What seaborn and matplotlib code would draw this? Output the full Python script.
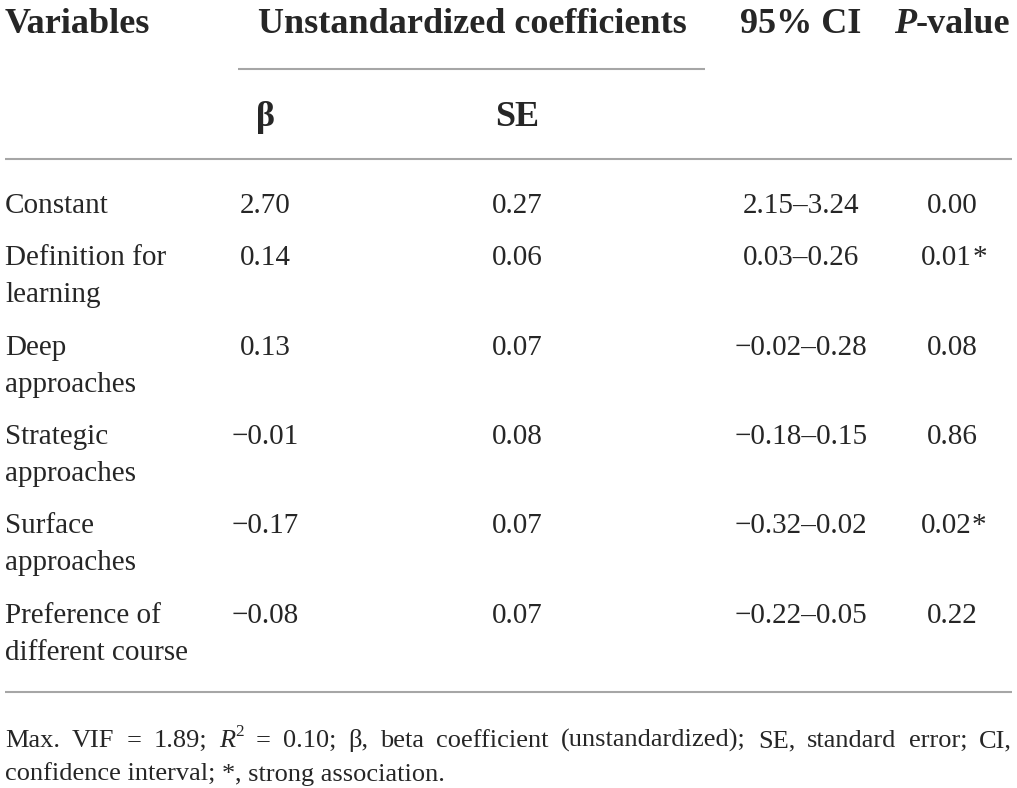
#!/usr/bin/env python3
# coding: utf-8

import seaborn as sns
import matplotlib
from matplotlib import pyplot as plt

# common setup  BEGIN
sns.set_theme(style="white")
matplotlib.rcParams['font.family'] = ['Liberation Serif', 'DejaVu Serif']
body_size = 21
head_size = 26
note_size = 19
line_color = "#a6a6a6"
# common setup END

variables = ["Constant", "Definition for\nlearning", "Deep\napproaches",
             "Strategic\napproaches", "Surface\napproaches",
             "Preference of\ndifferent course"]
beta = ["2.70", "0.14", "0.13", "\u22120.01", "\u22120.17", "\u22120.08"]
se = ["0.27", "0.06", "0.07", "0.08", "0.07", "0.07"]
ci = ["2.15\u20133.24", "0.03\u20130.26", "\u22120.02\u20130.28",
      "\u22120.18\u20130.15", "\u22120.32\u20130.02", "\u22120.22\u20130.05"]
p_values = ["0.00", "0.01", "0.08", "0.86", "0.02", "0.22"]
strong = [False, True, False, False, True, False]

row_base = [213, 265, 355, 444, 533, 623]
line_gap = 37

fig = plt.figure(figsize=[10.17, 7.88], dpi=100)
ax = fig.add_axes([0, 0, 1, 1])
ax.set_xlim(0, 1017)
ax.set_ylim(788, 0)
ax.axis("off")
renderer = fig.canvas.get_renderer()


def width_of(s, **kw):
    t = ax.text(0, 0, s, **kw)
    w = t.get_window_extent(renderer).width
    t.remove()
    return w


def runs(parts, x, y, center=False):
    # parts: list of (text, kwargs); drawn one after another on baseline y
    ws = [width_of(s, **kw) for s, kw in parts]
    if center:
        x = x - sum(ws) / 2
    for (s, kw), w in zip(parts, ws):
        ax.text(x, y, s, va="baseline", ha="left", **kw)
        x += w
    return x


bold = dict(fontsize=head_size, fontweight="bold")
# header
ax.text(5, 33, "Variables", va="baseline", ha="left", **bold)
ax.text(472, 33, "Unstandardized coefficients", va="baseline", ha="center", **bold)
ax.text(801, 33, "95% CI", va="baseline", ha="center", **bold)
runs([("P", dict(fontsize=head_size, fontweight="bold", fontstyle="italic")),
      ("-value", bold)], 952, 33, center=True)
ax.hlines(69, 238, 705, color=line_color, lw=1.5)
ax.text(265, 126, "\u03b2", va="baseline", ha="center", **bold)
ax.text(517, 126, "SE", va="baseline", ha="center", **bold)
ax.hlines(159, 5, 1012, color=line_color, lw=1.5)

# body
for i, name in enumerate(variables):
    yb = row_base[i]
    for k, part in enumerate(name.split("\n")):
        ax.text(5, yb + k * line_gap, part, va="baseline", ha="left", fontsize=body_size)
    ax.text(265, yb, beta[i], va="baseline", ha="center", fontsize=body_size)
    ax.text(517, yb, se[i], va="baseline", ha="center", fontsize=body_size)
    ax.text(801, yb, ci[i], va="baseline", ha="center", fontsize=body_size)
    if strong[i]:
        runs([(p_values[i], dict(fontsize=body_size)),
              ("*", dict(fontsize=body_size))], 954, yb, center=True)
    else:
        ax.text(952, yb, p_values[i], va="baseline", ha="center", fontsize=body_size)

ax.hlines(692, 5, 1012, color=line_color, lw=1.5)

# footnote, first line justified
rm = dict(fontsize=note_size)
it = dict(fontsize=note_size, fontstyle="italic")
sup = dict(fontsize=note_size * 0.65)
words = [[("Max.", rm)], [("VIF", rm)], [("=", rm)], [("1.89;", rm)],
         [("R", it), ("2", sup)], [("=", rm)], [("0.10;", rm)],
         [("\u03b2,", rm)], [("beta", rm)], [("coefficient", rm)],
         [("(unstandardized);", rm)], [("SE,", rm)], [("standard", rm)],
         [("error;", rm)], [("CI,", rm)]]
word_w = [sum(width_of(s, **kw) for s, kw in w) for w in words]
gap = (1012 - 5 - sum(word_w)) / (len(words) - 1)
x = 5
for w, ww in zip(words, word_w):
    xx = x
    for s, kw in w:
        yy = 747 - 11 if kw is sup else 747
        ax.text(xx, yy, s, va="baseline", ha="left", **kw)
        xx += width_of(s, **kw)
    x += ww + gap
runs([("confidence interval; ", rm), ("*", rm), (", strong association.", rm)], 5, 781)

plt.savefig("out.png", dpi=100)
